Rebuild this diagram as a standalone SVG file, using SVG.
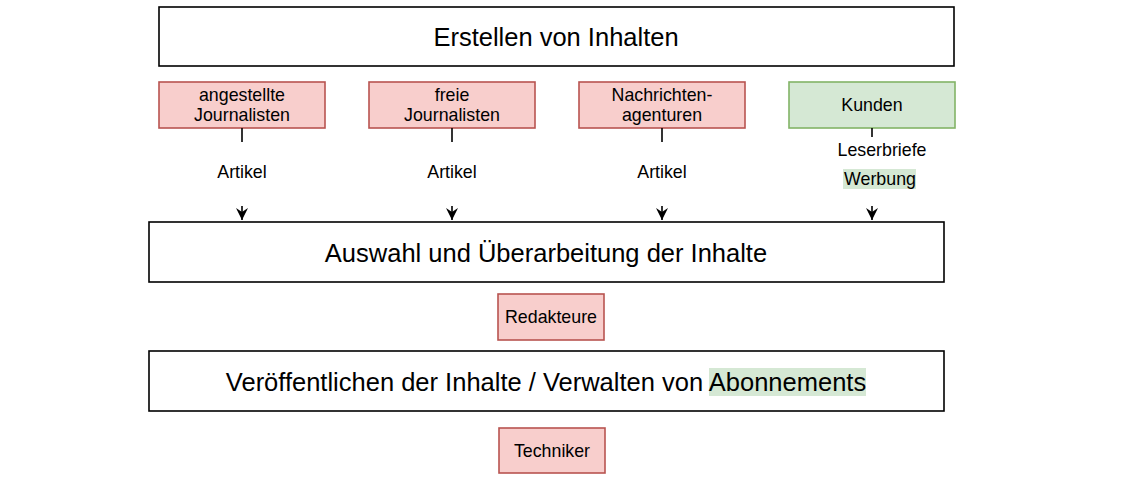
<svg xmlns="http://www.w3.org/2000/svg" width="1131" height="479" viewBox="0 0 1131 479">
<style>
text{font-family:"Liberation Sans",Arial,sans-serif;fill:#000;text-anchor:middle}
.big{font-size:25.5px}
.sm{font-size:17.8px}
.main{fill:#fff;stroke:#000;stroke-width:1.6}
.red{fill:#f8cecc;stroke:#b85450;stroke-width:1.6}
.green{fill:#d5e8d4;stroke:#82b366;stroke-width:1.6}
.edge{stroke:#000;stroke-width:1.6;fill:none}
</style>
<defs>
<marker id="arr" markerWidth="14" markerHeight="12" refX="13" refY="6" orient="auto" markerUnits="userSpaceOnUse" viewBox="0 0 14 12">
<path d="M1,0 L13,6 L1,12 L5,6 Z" fill="#000"/>
</marker>
</defs>
<rect width="1131" height="479" fill="#fff"/>
<g id="erstellen">
<rect class="main" x="159" y="7" width="795" height="59"/>
<text class="big" x="556" y="46">Erstellen von Inhalten</text>
</g>
<g id="angestellte">
<rect class="red" x="159" y="82" width="166" height="46"/>
<text class="sm" x="242" y="101">angestellte</text>
<text class="sm" x="242" y="121">Journalisten</text>
</g>
<g id="freie">
<rect class="red" x="369" y="82" width="166" height="46"/>
<text class="sm" x="452" y="101">freie</text>
<text class="sm" x="452" y="121">Journalisten</text>
</g>
<g id="agenturen">
<rect class="red" x="579" y="82" width="166" height="46"/>
<text class="sm" x="662" y="101">Nachrichten-</text>
<text class="sm" x="662" y="121">agenturen</text>
</g>
<g id="kunden">
<rect class="green" x="789" y="82" width="166" height="46"/>
<text class="sm" x="872" y="111">Kunden</text>
</g>
<g id="auswahl">
<rect class="main" x="149" y="222" width="795" height="60"/>
<text class="big" x="546" y="262">Auswahl und Überarbeitung der Inhalte</text>
</g>
<g id="redakteure">
<rect class="red" x="498" y="294" width="106" height="46"/>
<text class="sm" x="551" y="323">Redakteure</text>
</g>
<g id="veroeffentlichen">
<rect class="main" x="149" y="351" width="795" height="60"/>
<rect x="709" y="368" width="157" height="28" fill="#d5e8d4"/>
<text class="big" x="546" y="391">Veröffentlichen der Inhalte / Verwalten von Abonnements</text>
</g>
<g id="techniker">
<rect class="red" x="499" y="428" width="106" height="45"/>
<text class="sm" x="552" y="457">Techniker</text>
</g>
<g id="connectors">
<line class="edge" x1="242" y1="128" x2="242" y2="142"/>
<line class="edge" x1="242" y1="206" x2="242" y2="220" marker-end="url(#arr)"/>
<text class="sm" x="242" y="178">Artikel</text>
<line class="edge" x1="452" y1="128" x2="452" y2="142"/>
<line class="edge" x1="452" y1="206" x2="452" y2="220" marker-end="url(#arr)"/>
<text class="sm" x="452" y="178">Artikel</text>
<line class="edge" x1="662" y1="128" x2="662" y2="142"/>
<line class="edge" x1="662" y1="206" x2="662" y2="220" marker-end="url(#arr)"/>
<text class="sm" x="662" y="178">Artikel</text>
<line class="edge" x1="872" y1="128" x2="872" y2="137"/>
<line class="edge" x1="872" y1="206" x2="872" y2="220" marker-end="url(#arr)"/>
<text class="sm" x="882" y="156">Leserbriefe</text>
<rect x="843" y="169" width="73" height="20" fill="#d5e8d4"/>
<text class="sm" x="880" y="185">Werbung</text>
</g>
</svg>
